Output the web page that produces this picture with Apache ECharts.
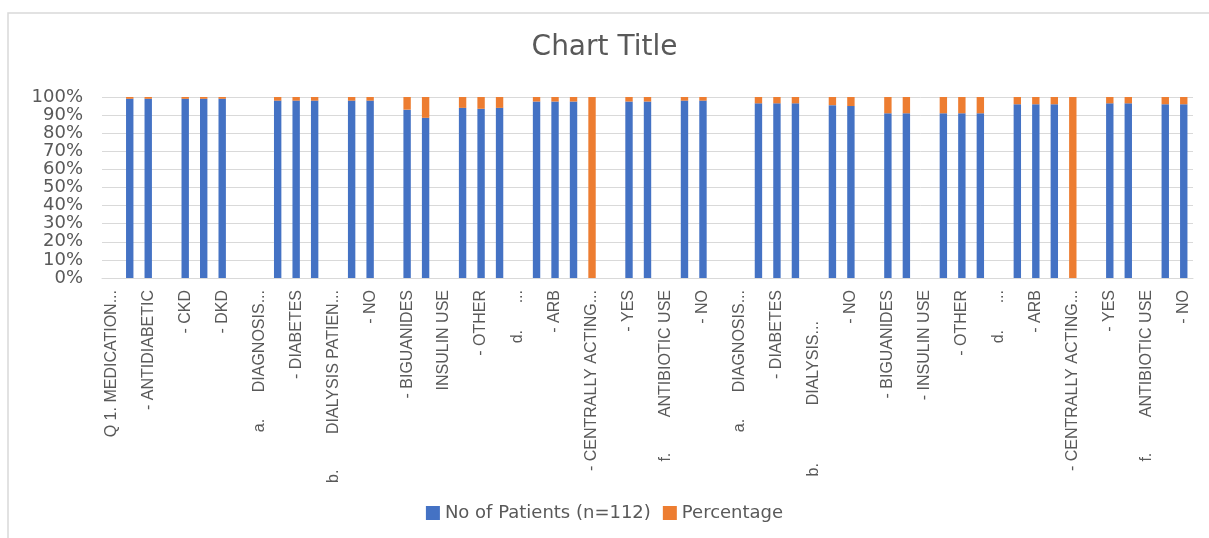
<!DOCTYPE html>
<html style="height: 100%">
    <head>
        <meta charset="utf-8">
        <title>Chart Title</title>
        <script src="https://cdn.jsdelivr.net/npm/echarts@6/dist/echarts.min.js"></script>
    </head>
    <body style="height: 100%; margin: 0; background: #fff">
        <div id="container" style="width: 1209px; height: 538px"></div>
        <script type="text/javascript">
            // axis categories (Excel only prints every second one)
            const categories = [
                'Q 1. MEDICATION...', '', '- ANTIDIABETIC', '', '- CKD', '', '- DKD', '',
                'a.      DIAGNOSIS...', '', '- DIABETES', '', 'b.        DIALYSIS PATIEN...', '',
                '- NO', '', '- BIGUANIDES', '', 'INSULIN USE', '', '- OTHER', '',
                'd.      ...', '', '- ARB', '', '- CENTRALLY ACTING...', '', '- YES', '',
                'f.        ANTIBIOTIC USE', '', '- NO', '', 'a.      DIAGNOSIS...', '',
                '- DIABETES', '', 'b.             DIALYSIS...       ', '', '- NO', '', '- BIGUANIDES', '',
                '- INSULIN USE', '', '- OTHER', '', 'd.      ...', '', '- ARB', '',
                '- CENTRALLY ACTING...', '', '- YES', '', 'f.        ANTIBIOTIC USE', '', '- NO'
            ];

            // share of each stacked bar (percent of the column total)
            const patients = [
                null, 99, 99, null, 99, 99, 99, null, null, 98, 98, 98, null, 98, 98, null,
                93, 88.5, null, 94, 93.5, 94, null, 97.5, 97.5, 97.5, 0, null, 97.5, 97.5,
                null, 98, 98, null, null, 96.5, 96.5, 96.5, null, 95.5, 95, null, 91, 91,
                null, 91, 91, 91, null, 96, 96, 96, 0, null, 96.5, 96.5, null, 96, 96
            ];
            const percentage = [
                null, 1, 1, null, 1, 1, 1, null, null, 2, 2, 2, null, 2, 2, null,
                7, 11.5, null, 6, 6.5, 6, null, 2.5, 2.5, 2.5, 100, null, 2.5, 2.5,
                null, 2, 2, null, null, 3.5, 3.5, 3.5, null, 4.5, 5, null, 9, 9,
                null, 9, 9, 9, null, 4, 4, 4, 100, null, 3.5, 3.5, null, 4, 4
            ];

            const yTicks = [0, 10, 20, 30, 40, 50, 60, 70, 80, 90, 100];

            let dom = document.getElementById('container');
            let chart = echarts.init(dom, null, {renderer: 'canvas'});
            chart.setOption({
                animation: false,
                color: ['#4472C4', '#ED7D31'],
                title: {
                    text: 'Chart Title',
                    left: 'center',
                    top: 29,
                    textStyle: {
                        fontFamily: 'DejaVu Sans',
                        fontSize: 28,
                        fontWeight: 'normal',
                        color: '#595959'
                    }
                },
                graphic: [{
                    type: 'rect',
                    shape: {x: 8, y: 13, width: 1215, height: 540},
                    style: {fill: 'none', stroke: '#d9d9d9', lineWidth: 1.5}
                }],
                legend: {
                    bottom: 11,
                    left: 'center',
                    itemWidth: 14,
                    itemHeight: 14,
                    itemGap: 12,
                    icon: 'rect',
                    textStyle: {
                        fontFamily: 'DejaVu Sans',
                        fontSize: 18,
                        color: '#595959'
                    },
                    data: ['No of Patients (n=112)', 'Percentage']
                },
                grid: {
                    left: 102,
                    right: 16,
                    top: 97,
                    bottom: 260
                },
                xAxis: {
                    type: 'category',
                    data: categories,
                    axisLine: {lineStyle: {color: '#d9d9d9'}},
                    axisTick: {show: false},
                    axisLabel: {
                        interval: 0,
                        rotate: 90,
                        margin: 12,
                        fontFamily: '"Liberation Sans Narrow", "Liberation Sans", sans-serif',
                        fontSize: 16,
                        color: '#595959'
                    }
                },
                yAxis: {
                    type: 'value',
                    min: yTicks[0],
                    max: yTicks[yTicks.length - 1],
                    interval: 10,
                    axisLine: {show: false},
                    axisTick: {show: false},
                    splitLine: {lineStyle: {color: '#d9d9d9'}},
                    axisLabel: {
                        formatter: '{value}%',
                        margin: 19,
                        fontFamily: 'DejaVu Sans',
                        fontSize: 18,
                        color: '#595959'
                    }
                },
                series: [
                    {
                        name: 'No of Patients (n=112)',
                        type: 'bar',
                        stack: 'total',
                        barWidth: '40%',
                        data: patients
                    },
                    {
                        name: 'Percentage',
                        type: 'bar',
                        stack: 'total',
                        barWidth: '40%',
                        data: percentage
                    }
                ]
            });
        </script>
    </body>
</html>
